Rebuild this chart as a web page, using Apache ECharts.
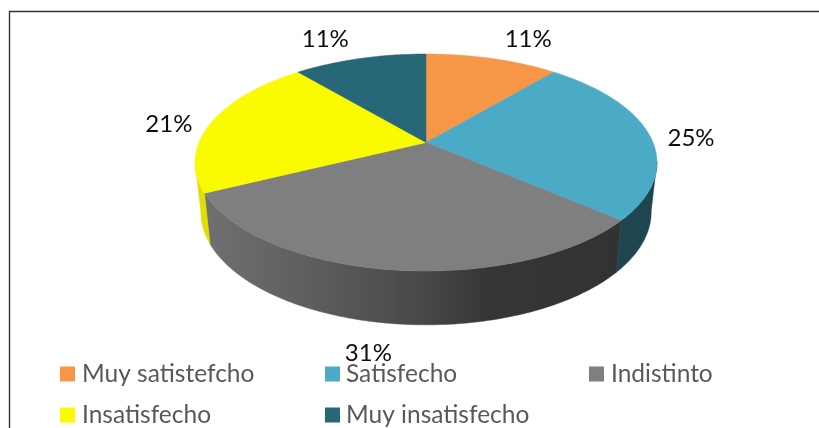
<!DOCTYPE html>
<html>
<head>
<meta charset="utf-8">
<style>html,body{margin:0;padding:0;background:#fff;overflow:hidden}#c{width:819px;height:428px}</style>
<script src="https://cdn.jsdelivr.net/npm/echarts@6/dist/echarts.min.js"></script>
</head>
<body>
<div id="c"></div>
<script>
const categories = ['Muy satistefcho', 'Satisfecho', 'Indistinto', 'Insatisfecho', 'Muy insatisfecho'];
const values = [11, 25, 31, 21, 11];
const labels = ['11%', '25%', '31%', '21%', '11%'];
const topColors = ['#f79646', '#4babc6', '#7f7f7f', '#fbfb00', '#276778'];

const FONT = 'Lato';
// Layout of the tilted pie
const CX = 426, CY = 162.5, RX = 227, RY = 108.5, LIFT = 20, K = 0.1843;
const BOTTOM_SX = 0.975, BOTTOM_SY = 1.04, BOTTOM_CY = 212;
const FRONT_START = 0.278, FRONT_END = 0.722;
const total = values.reduce((a, b) => a + b, 0);
const labelNudge = [[36, -19], [42, 4], [-22.5, 83.5], [-43, 2], [-34.5, -19]];
const sideFills = [
  '#b8702f', '#1f4650',
  new echarts.graphic.LinearGradient(205, 0, 620, 0, [
    { offset: 0, color: '#707070' }, { offset: 0.25, color: '#5e5e5e' },
    { offset: 0.5, color: '#4a4a4a' }, { offset: 0.68, color: '#363636' }, { offset: 1, color: '#323232' }
  ], true),
  '#dfdf00', '#1c4a57'
];

function project(frac) {
  const t = frac * 2 * Math.PI, u = Math.sin(t), v = Math.cos(t), d = 1 + K * v;
  return [RX * u / d, (RY * v + LIFT) / d];
}
const topPt = f => { const p = project(f); return [CX + p[0], CY - p[1]]; };
const botPt = f => { const p = project(f); return [CX + p[0] * BOTTOM_SX, BOTTOM_CY - p[1] * BOTTOM_SY]; };

function cumBefore(i) { return values.slice(0, i).reduce((a, b) => a + b, 0); }

function sweep(a, b, fn) {
  const n = Math.max(4, Math.ceil((b - a) * 360)), pts = [];
  for (let k = 0; k <= n; k++) pts.push(fn(a + (b - a) * k / n));
  return pts;
}

function makeRender(i) {
  return function (params, api) {
    const val = api.value(0);
    const a = cumBefore(i) / total, b = a + val / total;
    const mid = topPt((a + b) / 2);
    const children = [];
    const sa = Math.max(a, FRONT_START), sb = Math.min(b, FRONT_END);
    if (sb > sa) {
      children.push({ type: 'polygon', z2: 1,
        shape: { points: sweep(sa, sb, topPt).concat(sweep(sa, sb, botPt).reverse()) },
        style: { fill: sideFills[i], stroke: sideFills[i], lineWidth: 0.5 } });
    }
    children.push(
      { type: 'polygon', z2: 10, shape: { points: [[CX, CY - LIFT]].concat(sweep(a, b, topPt)) },
        style: { fill: topColors[i], stroke: topColors[i], lineWidth: 0.5 } },
      { type: 'text', z2: 20, x: mid[0] + labelNudge[i][0], y: mid[1] + labelNudge[i][1],
        style: { text: labels[i], fill: '#0d0d0d', font: '24px ' + FONT, align: 'center', verticalAlign: 'middle' } }
    );
    return { type: 'group', children };
  };
}

const legendBase = {
  orient: 'vertical', top: 361, itemWidth: 15, itemHeight: 15, itemGap: 15, icon: 'rect',
  selectedMode: false, padding: 0,
  textStyle: { fontFamily: FONT, fontSize: 24.5, color: '#595959', lineHeight: 26, padding: [0, 0, 0, 2] }
};

const chart = echarts.init(document.getElementById('c'), null, { renderer: 'canvas' });
chart.setOption({
  animation: false,
  backgroundColor: '#ffffff',
  legend: [
    Object.assign({}, legendBase, { left: 60, data: [categories[0], categories[3]] }),
    Object.assign({}, legendBase, { left: 325, data: [categories[1], categories[4]], textStyle: Object.assign({}, legendBase.textStyle, { padding: [0, 0, 0, 1] }) }),
    Object.assign({}, legendBase, { left: 589, data: [categories[2]] })
  ],
  graphic: [
    { type: 'line', silent: true, shape: { x1: 9.5, y1: 11.5, x2: 9.5, y2: 428 }, style: { stroke: '#333333', lineWidth: 1.4 } },
    { type: 'line', silent: true, shape: { x1: 9, y1: 11.5, x2: 819, y2: 11.5 }, style: { stroke: '#333333', lineWidth: 1.4 } }
  ],
  series: categories.map((name, i) => ({
    type: 'custom',
    name,
    coordinateSystem: 'none',
    silent: true,
    itemStyle: { color: topColors[i] },
    data: [values[i]],
    renderItem: makeRender(i)
  }))
});
</script>
</body>
</html>
